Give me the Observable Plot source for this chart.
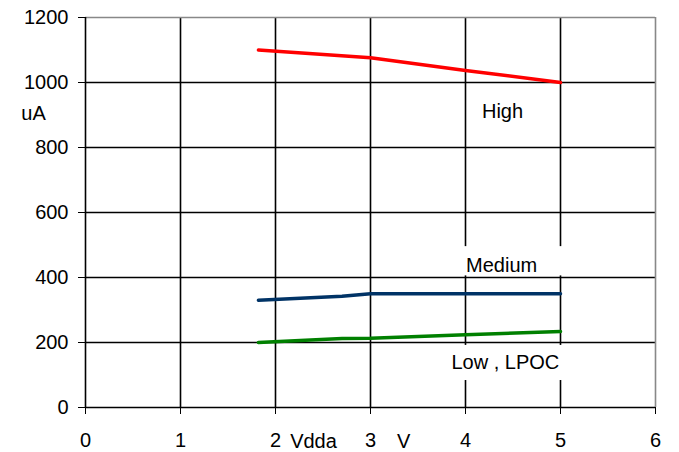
<!DOCTYPE html>
<html>
<head>
<meta charset="utf-8">
<script src="https://cdn.jsdelivr.net/npm/d3@7"></script>
<script src="https://cdn.jsdelivr.net/npm/@observablehq/plot@0.6"></script>
<style>
  html, body { margin: 0; padding: 0; background: white; }
</style>
</head>
<body>
<div id="chart"></div>
<script>
// Tick values
const xTicks = [0, 1, 2, 3, 4, 5, 6];
const yTicks = [0, 200, 400, 600, 800, 1000, 1200];

// Series (Vdda in V, current in uA)
const highX = [1.82, 3, 4, 5];
const highY = [1100, 1076, 1037, 1000];
const mediumX = [1.82, 2.7, 3, 4, 5];
const mediumY = [330, 342, 350, 350, 350];
const lowX = [1.82, 2.7, 3, 4, 5];
const lowY = [200, 212, 213, 224, 234];

// Series labels
const labelNames = ["High", "Medium", "Low , LPOC"];
const labelX = [4.39, 4.38, 4.42];
const labelY = [910, 437, 138];
// white label boxes (data units)
const boxX1 = [3.89, 3.79];
const boxX2 = [5.11, 5.11];
const boxY1 = [405, 83];
const boxY2 = [495, 191];

// Axis titles
const axisTexts = ["Vdda", "V"];
const axisTextX = [2.4, 3.35];
const yTitle = "uA";

const series = [
  ...highX.map((x, i) => ({ s: "High", x, y: highY[i] })),
  ...mediumX.map((x, i) => ({ s: "Medium", x, y: mediumY[i] })),
  ...lowX.map((x, i) => ({ s: "Low", x, y: lowY[i] }))
];
const labels = labelNames.map((t, i) => ({ t, x: labelX[i], y: labelY[i] }));
const boxes = boxX1.map((x1, i) => ({ x1, x2: boxX2[i], y1: boxY1[i], y2: boxY2[i] }));
const axisT = axisTexts.map((t, i) => ({ t, x: axisTextX[i] }));

const chart = Plot.plot({
  width: 679,
  height: 452,
  marginLeft: 85,
  marginRight: 24,
  marginTop: 17,
  marginBottom: 45,
  style: { fontFamily: "'Liberation Sans', Arial, sans-serif", fontSize: "20px", background: "white", color: "black" },
  x: { domain: [0, 6], ticks: xTicks, tickSize: 7, tickPadding: 18, tickFormat: d => String(d), label: null },
  y: { domain: [0, 1200], ticks: yTicks, tickSize: 7, tickPadding: 10, tickFormat: d => String(d), label: null },
  color: { domain: ["High", "Medium", "Low"], range: ["#ff0000", "#003366", "#008000"] },
  marks: [
    Plot.ruleX(xTicks.filter(d => d > 0 && d < 6), { stroke: "black", strokeWidth: 1.6 }),
    Plot.ruleY(yTicks.filter(d => d > 0 && d < 1200), { stroke: "black", strokeWidth: 1.6 }),
    Plot.ruleY([1200], { stroke: "#888", strokeWidth: 1.6 }),
    Plot.ruleX([6], { stroke: "#888", strokeWidth: 1.6 }),
    Plot.rect(boxes, { x1: "x1", x2: "x2", y1: "y1", y2: "y2", fill: "white" }),
    Plot.line(series, { x: "x", y: "y", z: "s", stroke: "s", strokeWidth: 3.5, strokeLinejoin: "round" }),
    Plot.text(labels, { x: "x", y: "y", text: "t", fontSize: 20, fill: "black" }),
    Plot.ruleY([0], { stroke: "black", strokeWidth: 1.6 }),
    Plot.ruleX([0], { stroke: "black", strokeWidth: 1.6 }),
    Plot.text(axisT, { x: "x", y: 0, text: "t", dy: 40, lineAnchor: "bottom", fontSize: 20, fill: "black" }),
    Plot.text([yTitle], { x: 0, y: 905, text: d => d, dx: -52, fontSize: 20, fill: "black" })
  ]
});

document.getElementById("chart").appendChild(chart);
</script>
</body>
</html>
